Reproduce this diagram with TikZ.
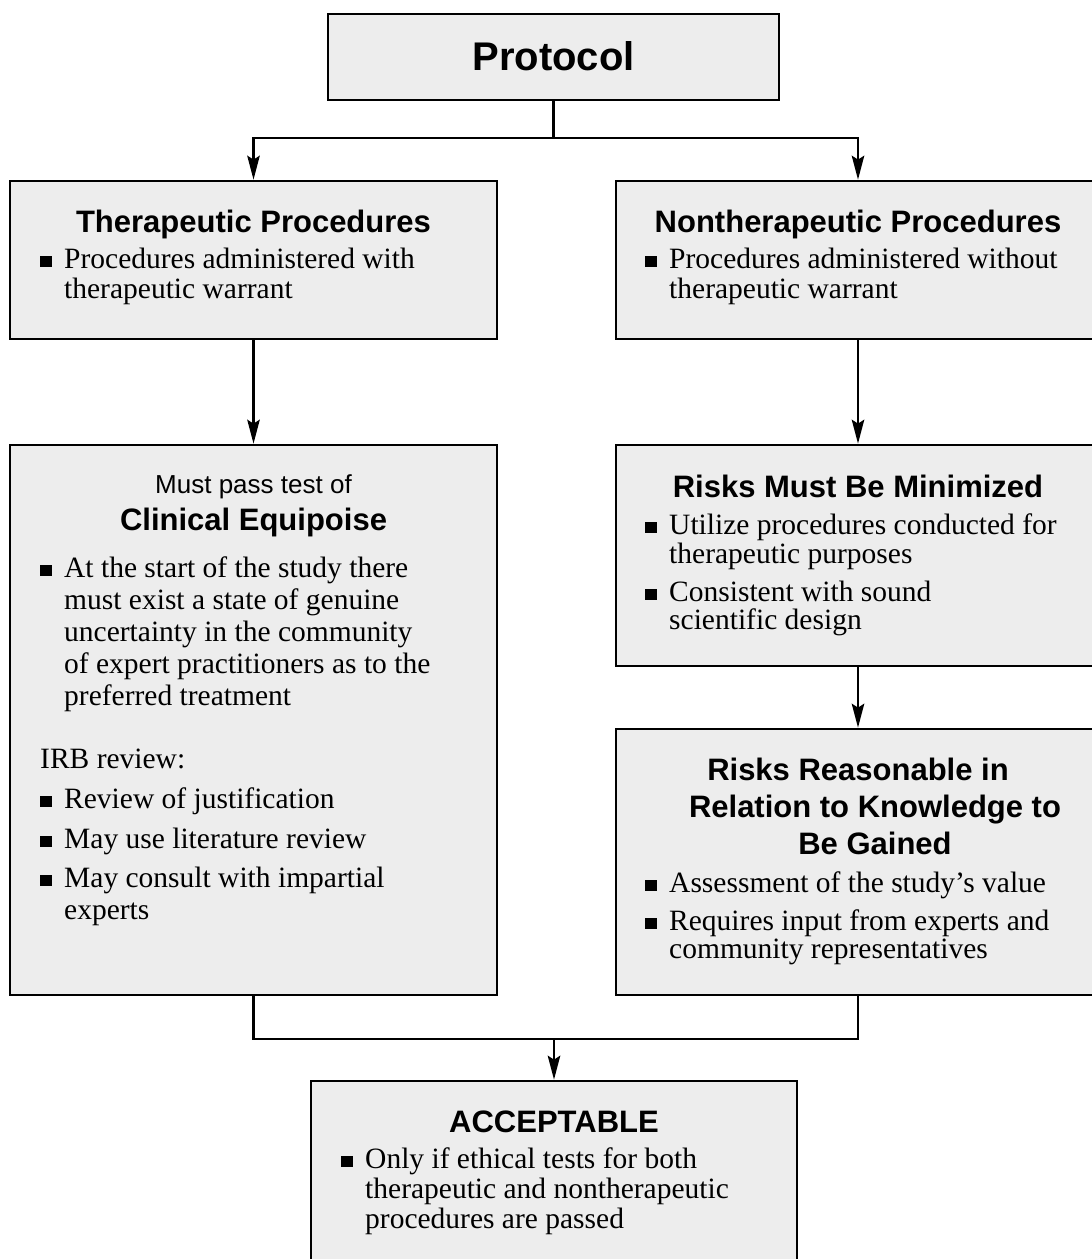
\documentclass[tikz,border=0pt]{standalone}
\usepackage{fontspec}
\setmainfont{Liberation Serif}
\setsansfont{Liberation Sans}
\usetikzlibrary{arrows.meta}
\definecolor{boxgray}{RGB}{237,237,237}
\newcommand{\sqb}{\makebox[24pt][l]{\rule[1.5pt]{12pt}{11pt}}}
\begin{document}
\begin{tikzpicture}[x=1pt,y=-1pt,
  box/.style={draw=black,fill=boxgray,line width=2.7pt,rectangle,inner sep=0pt},
  txt/.style={anchor=base west,inner sep=0pt,font=\fontsize{29.5}{31}\selectfont},
  ttl/.style={anchor=base,inner sep=0pt,font=\sffamily\bfseries\fontsize{31}{36}\selectfont},
  conn/.style={line width=2.2pt},
  arr/.style={conn,-{Stealth[length=24pt,width=12.5pt,inset=4pt]}}]
\useasboundingbox (0,0) rectangle (1092,1259);
\fill[white] (0,0) rectangle (1092,1259);
\clip (0,0) rectangle (1092,1259);

% boxes
\node[box,minimum width=451pt,minimum height=86pt] (proto) at (553.5,57) {};
\node[box,minimum width=487pt,minimum height=158pt] (ther) at (253.5,260) {};
\node[box,minimum width=484pt,minimum height=158pt] (nonther) at (858,260) {};
\node[box,minimum width=487pt,minimum height=550pt] (clin) at (253.5,720) {};
\node[box,minimum width=484pt,minimum height=221pt] (rmin) at (858,555.5) {};
\node[box,minimum width=484pt,minimum height=266pt] (rreas) at (858,862) {};
\node[box,minimum width=486pt,minimum height=200pt] (acc) at (554,1181) {};

% connectors
\coordinate (split) at (553.5,138);
\coordinate (merge) at (554,1039);
\draw[conn] (proto.south) -- (split);
\draw[arr] (split) -| (ther.north);
\draw[arr] (split) -| (nonther.north);
\draw[arr] (ther.south) -- (clin.north);
\draw[arr] (nonther.south) -- (rmin.north);
\draw[arr] (rmin.south) -- (rreas.north);
\draw[conn] (clin.south) |- (merge);
\draw[conn] (rreas.south) |- (merge);
\draw[arr] (merge) -- (acc.north);

% Protocol
\node[anchor=base,inner sep=0pt,font=\sffamily\bfseries\fontsize{40}{46}\selectfont] (tproto) at (553.5,70) {Protocol};

% Therapeutic
\node[ttl] (tther) at (253.5,232) {Therapeutic Procedures};
\node[txt] (ther1) at (40,268) {\sqb Procedures administered with};
\node[txt] (ther2) at (64,298) {therapeutic warrant};

% Nontherapeutic
\node[ttl] (tnon) at (858,232) {Nontherapeutic Procedures};
\node[txt] (non1) at (645,268) {\sqb Procedures administered without};
\node[txt] (non2) at (669,298) {therapeutic warrant};

% Clinical equipoise
\node[anchor=base,inner sep=0pt,font=\sffamily\fontsize{26}{30}\selectfont] (tmust) at (253.5,493) {Must pass test of};
\node[ttl] (tclin) at (253.5,530) {Clinical Equipoise};
\node[txt] (cl1) at (40,577) {\sqb At the start of the study there};
\node[txt] (cl2) at (64,609) {must exist a state of genuine};
\node[txt] (cl3) at (64,641) {uncertainty in the community};
\node[txt] (cl4) at (64,673) {of expert practitioners as to the};
\node[txt] (cl5) at (64,705) {preferred treatment};
\node[txt] (irb) at (40,768) {IRB review:};
\node[txt] (irb1) at (40,808) {\sqb Review of justification};
\node[txt] (irb2) at (40,848) {\sqb May use literature review};
\node[txt] (irb3) at (40,887) {\sqb May consult with impartial};
\node[txt] (irb4) at (64,919) {experts};

% Risks minimized
\node[ttl] (tmin) at (858,497) {Risks Must Be Minimized};
\node[txt] (mn1) at (645,534) {\sqb Utilize procedures conducted for};
\node[txt] (mn2) at (669,563) {therapeutic purposes};
\node[txt] (mn3) at (645,601) {\sqb Consistent with sound};
\node[txt] (mn4) at (669,629) {scientific design};

% Risks reasonable
\node[ttl] (trs1) at (858,780) {Risks Reasonable in};
\node[ttl] (trs2) at (875,817) {Relation to Knowledge to};
\node[ttl] (trs3) at (875,854) {Be Gained};
\node[txt] (rs1) at (645,892) {\sqb Assessment of the study's value};
\node[txt] (rs2) at (645,930) {\sqb Requires input from experts and};
\node[txt] (rs3) at (669,958) {community representatives};

% Acceptable
\node[ttl] (tacc) at (554,1132) {ACCEPTABLE};
\node[txt] (ac1) at (341,1168) {\sqb Only if ethical tests for both};
\node[txt] (ac2) at (365,1198) {therapeutic and nontherapeutic};
\node[txt] (ac3) at (365,1228) {procedures are passed};
\end{tikzpicture}
\end{document}
